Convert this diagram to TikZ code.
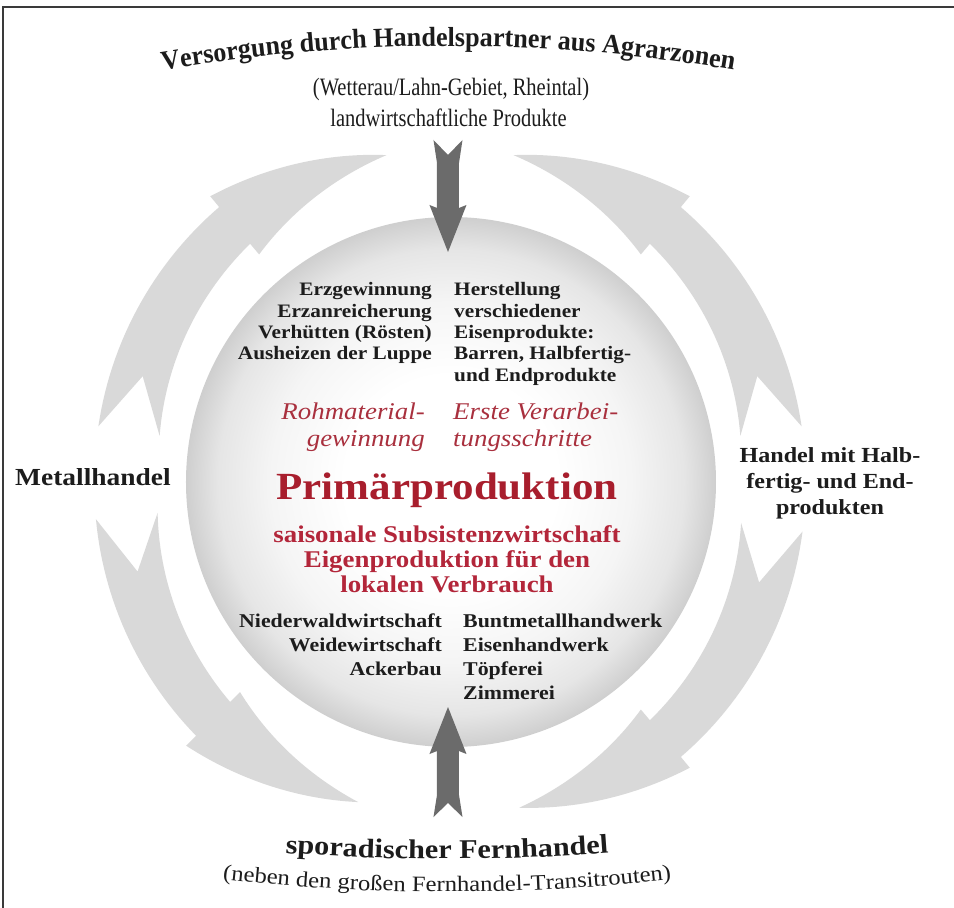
\documentclass[tikz,border=0pt]{standalone}
\usepackage{fontspec}
\setmainfont{Liberation Serif}
\newfontfamily\bodyf[FakeStretch=1.12]{Liberation Serif}
\newfontfamily\titlef[FakeStretch=0.95]{Liberation Serif}
\newfontfamily\condf[FakeStretch=0.82]{Liberation Serif}
\usetikzlibrary{decorations.text,calc}
\definecolor{ringgray}{HTML}{D9D9D9}
\definecolor{arrowdark}{HTML}{6B6B6B}
\definecolor{txt}{HTML}{1C1C1C}
\definecolor{redmain}{HTML}{A81E2D}
\definecolor{redsubc}{HTML}{B3263A}
\definecolor{reditc}{HTML}{A9303E}
\definecolor{framec}{HTML}{3A3A3A}
\pgfdeclareradialshading{sphereshade}{\pgfpoint{0bp}{0bp}}{color(0bp)=(white); color(10bp)=(white); color(17bp)=(black!4); color(22bp)=(black!10); color(25bp)=(black!19); color(50bp)=(black!19)}
\newcommand\ringarrow[4]{%
  \fill[ringfill]
   ({#1}:356)
   -- plot[variable=\u,domain=0:1,samples=30] ({(#1)+((#2)-(#1))*\u}:{356+3*\u})
   -- ({#2}:373)
   -- plot[variable=\u,domain=0:1,samples=30] ({(#2)+((#3)-(#2))*\u}:{373-40*\u})
   -- plot[variable=\u,domain=0:1,samples=30] ({(#3)+((#2)-(#3))*\u}:{333-36*\u})
   -- plot[variable=\u,domain=0:1,samples=30] ({(#2)+((#1)-(#2))*\u}:{311-17*\u})
   -- ({#4}:325) -- cycle;}
\begin{document}
\begin{tikzpicture}[x=1pt,y=1pt,
  ringfill/.style={fill=ringgray},
  darkfill/.style={fill=arrowdark},
  blktext/.style={font=\bodyf\bfseries\fontsize{19}{21.3}\selectfont, text=txt, inner sep=0pt},
  blktextb/.style={font=\bodyf\bfseries\fontsize{19.5}{24.3}\selectfont, text=txt, inner sep=0pt},
  reditalic/.style={font=\bodyf\itshape\fontsize{24}{27}\selectfont, text=reditc, inner sep=0pt},
  primtext/.style={font=\bodyf\bfseries\fontsize{38.4}{42}\selectfont, text=redmain, inner sep=0pt},
  redsub/.style={font=\bodyf\bfseries\fontsize{24}{25.5}\selectfont, text=redsubc, inner sep=0pt},
  sidelabel/.style={font=\bodyf\bfseries\fontsize{24.5}{26}\selectfont, text=txt, inner sep=0pt},
  tradelabel/.style={font=\bodyf\bfseries\fontsize{21.5}{26}\selectfont, text=txt, inner sep=0pt},
  condlabel/.style={font=\condf\fontsize{25}{28}\selectfont, text=txt, inner sep=0pt}]
\useasboundingbox (-450,-426) rectangle (504,482);
\fill[white] (-450,-426) rectangle (504,482);
\draw[framec, line width=2pt] (-446.5,-426) -- (-446.5,474.5) -- (504,474.5);

% ring of light grey arrows
\ringarrow{171}{130}{101}{161}
\ringarrow{9}{50}{79}{19}
\ringarrow{186}{225}{254}{196}
\ringarrow{352}{310}{282}{342}

% sphere
\node[circle, minimum size=530pt, inner sep=0pt, shading=sphereshade] (sphere) at (1,0) {};

% top labels
\path[decorate, decoration={text along path, text align=center,
  text={|\titlef\bfseries\fontsize{27.5}{30}\selectfont\color{txt}|Versorgung durch Handelspartner aus Agrarzonen}}]
  (-2,-1264) ++(106:1700) arc[start angle=106, end angle=74, radius=1700];
\node[condlabel, anchor=base] (region) at (1,386) {(Wetterau/Lahn-Gebiet, Rheintal)};
\node[condlabel, anchor=base] (agri) at (-1.5,355) {landwirtschaftliche Produkte};

% dark arrow down
\coordinate (dtop) at (-2,342);
\coordinate (dtip) at (-2,230);
\fill[darkfill, shift={(dtop)}] (-14.5,0) -- (0,-15) -- (14.5,0) -- (11,-23) -- (11,-68)
  -- (18.5,-65) -- (0,-112) -- (-18.5,-65) -- (-11,-68) -- (-11,-23) -- cycle;

% dark arrow up
\coordinate (utail) at (-2,-335);
\coordinate (utip) at (-2,-225);
\fill[darkfill, shift={(utail)}] (-14.5,0) -- (0,14) -- (14.5,0) -- (11,22) -- (11,66)
  -- (18.5,63) -- (0,110) -- (-18.5,63) -- (-11,66) -- (-11,22) -- cycle;

% inner texts
\node[blktext, anchor=base east] (ore) at (-18,186) {\begin{tabular}[t]{@{}r@{}}Erzgewinnung\\Erzanreicherung\\Verhütten (Rösten)\\Ausheizen der Luppe\end{tabular}};
\node[blktext, anchor=base west] (iron) at (4,186) {\begin{tabular}[t]{@{}l@{}}Herstellung\\verschiedener\\Eisenprodukte:\\Barren, Halbfertig-\\und Endprodukte\end{tabular}};
\node[reditalic, anchor=base east] (raw) at (-25,62) {\begin{tabular}[t]{@{}r@{}}Rohmaterial-\\gewinnung\end{tabular}};
\node[reditalic, anchor=base west] (first) at (3,62) {\begin{tabular}[t]{@{}l@{}}Erste Verarbei-\\tungsschritte\end{tabular}};
\node[primtext, anchor=base] (prim) at (-3,-18) {Primärproduktion};
\node[redsub, anchor=base] (subs) at (-3,-60) {\begin{tabular}[t]{@{}c@{}}saisonale Subsistenzwirtschaft\\Eigenproduktion für den\\lokalen Verbrauch\end{tabular}};
\node[blktextb, anchor=base east] (landuse) at (-8,-145) {\begin{tabular}[t]{@{}r@{}}Niederwaldwirtschaft\\Weidewirtschaft\\Ackerbau\end{tabular}};
\node[blktextb, anchor=base west] (craft) at (13,-145) {\begin{tabular}[t]{@{}l@{}}Buntmetallhandwerk\\Eisenhandwerk\\Töpferei\\Zimmerei\end{tabular}};

% side labels
\node[sidelabel, anchor=base west] (metal) at (-435,-4) {Metallhandel};
\node[tradelabel, anchor=base] (trade) at (380,19) {\begin{tabular}[t]{@{}c@{}}Handel mit Halb-\\fertig- und End-\\produkten\end{tabular}};

% bottom labels
\path[decorate, decoration={text along path, text align=center,
  text={|\bodyf\bfseries\fontsize{27}{30}\selectfont\color{txt}|sporadischer Fernhandel}}]
  (-3,1823) ++(264:2200) arc[start angle=264, end angle=276, radius=2200];
\path[decorate, decoration={text along path, text align=center,
  text={|\bodyf\fontsize{22}{25}\selectfont\color{txt}|(neben den großen Fernhandel-Transitrouten)}}]
  (-3,1590) ++(262:2000) arc[start angle=262, end angle=278, radius=2000];
\end{tikzpicture}
\end{document}
